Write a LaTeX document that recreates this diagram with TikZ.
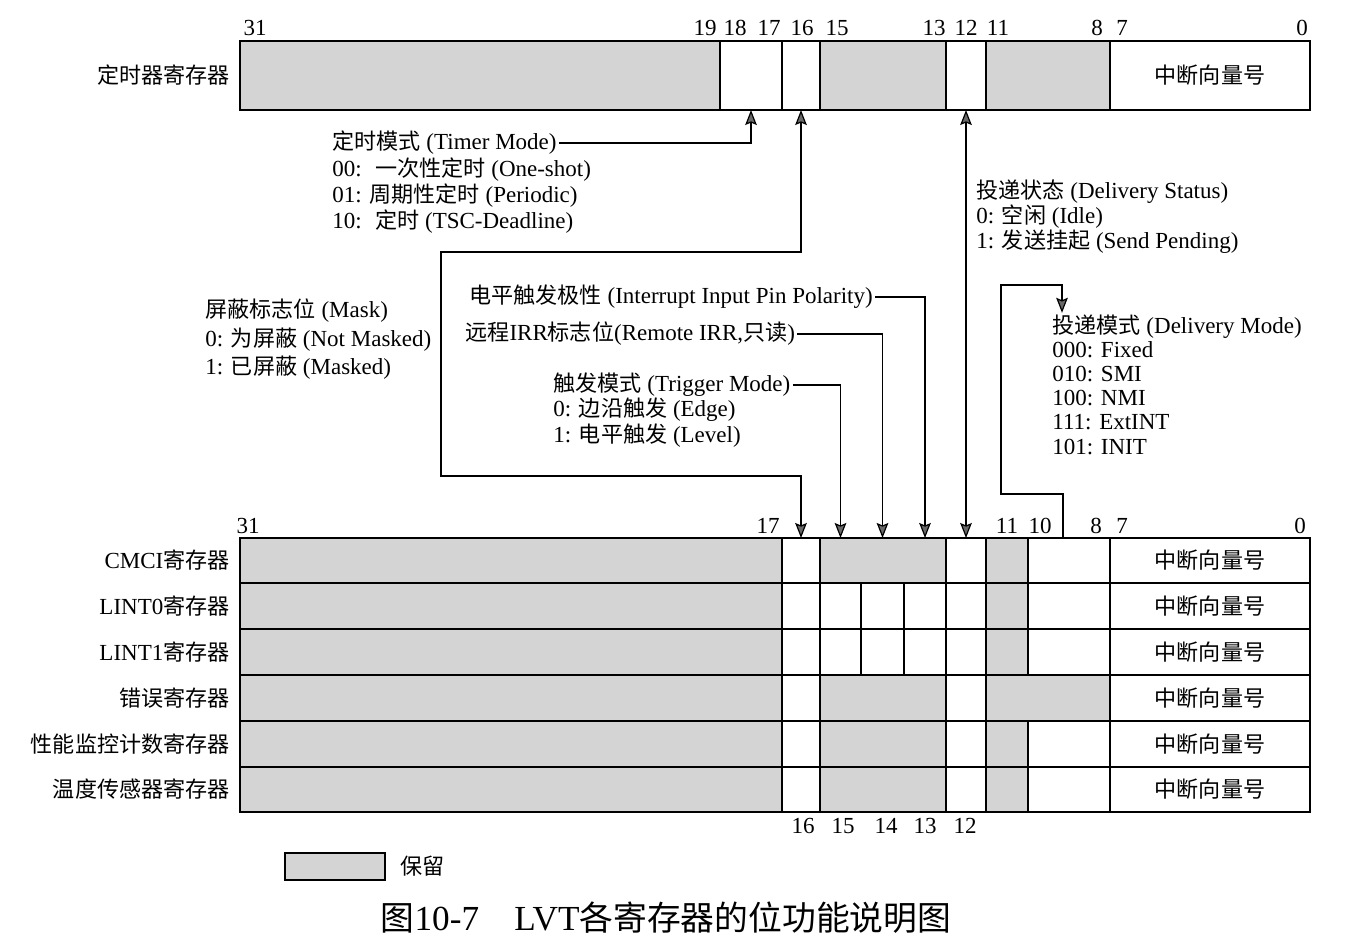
\documentclass[tikz,border=0pt]{standalone}
\usepackage{fontspec}
\setmainfont{Liberation Serif}
\newfontfamily\cjk{Noto Sans CJK SC}[Scale=0.96]
\usetikzlibrary{arrows.meta}
\definecolor{reserved}{RGB}{212,212,212}
\definecolor{tipgray}{RGB}{105,105,105}

\begin{document}
\begin{tikzpicture}[x=0.5pt,y=-0.5pt,
  cell/.style={draw, line width=0.8pt, inner sep=0pt, outer sep=0pt, font=\fontsize{11.5}{13}\selectfont},
  txt/.style={inner sep=1pt, font=\fontsize{11.5}{13}\selectfont},
  bitno/.style={inner sep=1pt, font=\fontsize{11.5}{13}\selectfont},
  conn/.style={line width=0.6pt, >={Stealth[length=7.5pt,width=5.8pt,inset=1.2pt,fill=tipgray]}}]
\newcommand\regcell[7]{%
  \node[cell, fill=#6, minimum width={(#3-#2)*0.5pt}, minimum height={(#5-#4)*0.5pt}] (#1) at ({(#2+#3)/2},{(#4+#5)/2}) {#7};}
\useasboundingbox (0,0) rectangle (1354,944);

% timer register
\regcell{t31}{240}{720}{41}{110}{reserved}{}
\regcell{t18}{720}{782}{41}{110}{white}{}
\regcell{t16}{782}{820}{41}{110}{white}{}
\regcell{t15}{820}{946}{41}{110}{reserved}{}
\regcell{t12}{946}{986}{41}{110}{white}{}
\regcell{t11}{986}{1110}{41}{110}{reserved}{}
\regcell{t7}{1110}{1310}{41}{110}{white}{\cjk 中断向量号}
\node[txt, anchor=east] (lbltimer) at (232,75) {\cjk 定时器寄存器};
\foreach \b/\x in {31/255,19/705,18/735,17/769,16/802,15/837,13/934,12/966,11/998,8/1097,7/1122,0/1302}
  \node[bitno] (tb\b) at (\x,28) {\b};

% LVT table, common fields
\foreach \n/\ya/\yb/\lab in {1/538/583/{CMCI{\cjk 寄存器}},2/583/629/{LINT0{\cjk 寄存器}},3/629/675/{LINT1{\cjk 寄存器}},
    4/675/721/{\cjk 错误寄存器},5/721/767/{\cjk 性能监控计数寄存器},6/767/812/{\cjk 温度传感器寄存器}} {
  \regcell{c\n-31}{240}{782}{\ya}{\yb}{reserved}{}
  \regcell{c\n-16}{782}{820}{\ya}{\yb}{white}{}
  \regcell{c\n-12}{946}{986}{\ya}{\yb}{white}{}
  \regcell{c\n-7}{1110}{1310}{\ya}{\yb}{white}{\cjk 中断向量号}
  \node[txt, anchor=east] (lbl\n) at (232,{(\ya+\yb)/2}) {\lab};
}
% CMCI, performance monitor, thermal sensor
\foreach \n/\ya/\yb in {1/538/583,5/721/767,6/767/812} {
  \regcell{c\n-15}{820}{946}{\ya}{\yb}{reserved}{}
  \regcell{c\n-11}{986}{1028}{\ya}{\yb}{reserved}{}
  \regcell{c\n-10}{1028}{1110}{\ya}{\yb}{white}{}
}
% LINT0, LINT1
\foreach \n/\ya/\yb in {2/583/629,3/629/675} {
  \regcell{c\n-15}{820}{861}{\ya}{\yb}{white}{}
  \regcell{c\n-14}{861}{904}{\ya}{\yb}{white}{}
  \regcell{c\n-13}{904}{946}{\ya}{\yb}{white}{}
  \regcell{c\n-11}{986}{1028}{\ya}{\yb}{reserved}{}
  \regcell{c\n-10}{1028}{1110}{\ya}{\yb}{white}{}
}
% error
\regcell{c4-15}{820}{946}{675}{721}{reserved}{}
\regcell{c4-11}{986}{1110}{675}{721}{reserved}{}

\foreach \b/\x in {31/248,17/768,11/1007,10/1040,8/1096,7/1122,0/1300}
  \node[bitno] (lb\b) at (\x,526) {\b};
\foreach \b/\x in {16/803,15/843,14/886,13/925,12/965}
  \node[bitno] (fb\b) at (\x,826) {\b};

% field descriptions
\node[txt, anchor=west] (tmode) at (330,143) {{\cjk 定时模式} (Timer Mode)};
\node[txt, anchor=west] (tmode0) at (330,170) {00:~ {\cjk 一次性定时} (One-shot)};
\node[txt, anchor=west] (tmode1) at (330,196) {01: {\cjk 周期性定时} (Periodic)};
\node[txt, anchor=west] (tmode2) at (330,222) {10:~ {\cjk 定时} (TSC-Deadline)};

\node[txt, anchor=west] (dstat) at (974,192) {{\cjk 投递状态} (Delivery Status)};
\node[txt, anchor=west] (dstat0) at (974,217) {0: {\cjk 空闲} (Idle)};
\node[txt, anchor=west] (dstat1) at (974,242) {1: {\cjk 发送挂起} (Send Pending)};

\node[txt, anchor=west] (mask) at (203,311) {{\cjk 屏蔽标志位} (Mask)};
\node[txt, anchor=west] (mask0) at (203,340) {0: {\cjk 为屏蔽} (Not Masked)};
\node[txt, anchor=west] (mask1) at (203,368) {1: {\cjk 已屏蔽} (Masked)};

\node[txt, anchor=west] (pol) at (467,297) {{\cjk 电平触发极性} (Interrupt Input Pin Polarity)};
\node[txt, anchor=west] (rirr) at (463,334) {{\cjk 远程}IRR{\cjk 标志位}(Remote IRR,{\cjk 只读})};

\node[txt, anchor=west] (trig) at (551,385) {{\cjk 触发模式} (Trigger Mode)};
\node[txt, anchor=west] (trig0) at (551,410) {0: {\cjk 边沿触发} (Edge)};
\node[txt, anchor=west] (trig1) at (551,436) {1: {\cjk 电平触发} (Level)};

\node[txt, anchor=west] (dmode) at (1050,327) {{\cjk 投递模式} (Delivery Mode)};
\node[txt, anchor=west] (dmode0) at (1050,350) {000: Fixed};
\node[txt, anchor=west] (dmode1) at (1050,374) {010: SMI};
\node[txt, anchor=west] (dmode2) at (1050,398) {100: NMI};
\node[txt, anchor=west] (dmode3) at (1050,422) {111: ExtINT};
\node[txt, anchor=west] (dmode4) at (1050,447) {101: INIT};

% connectors
\coordinate (mk1) at (441,252);
\coordinate (mk2) at (441,476);
\coordinate (dl1) at (1001,494);
\coordinate (dl2) at (1001,285);
\coordinate (dmin) at ([xshift=6pt]dmode.north west);
\draw[conn,->] (tmode.east) -| (t18.south);
\draw[conn,<->] (t16.south) |- (mk1) -- (mk2) -| (c1-16.north);
\draw[conn,->] (trig.east) -| (c2-15.north |- c1-15.north);
\draw[conn,->] (rirr.east) -| (c2-14.north |- c1-15.north);
\draw[conn,->] (pol.east) -| (c2-13.north |- c1-15.north);
\draw[conn,<->] (t12.south) -- (c1-12.north);
\draw[conn,->] ([xshift=-3pt]c1-10.north) |- (dl1) -- (dl2) -| (dmin);

% legend and caption
\node[cell, fill=reserved, line width=0.6pt, minimum width=50pt, minimum height=13.5pt] (legbox) at (335,866.5) {};
\node[txt, anchor=west] (legtxt) at (398,866) {\cjk 保留};
\node[inner sep=0pt, font=\fontsize{17.6}{20}\selectfont] (caption) at (666,918) {{\cjk 图}10-7\quad LVT{\cjk 各寄存器的位功能说明图}};
\end{tikzpicture}
\end{document}
